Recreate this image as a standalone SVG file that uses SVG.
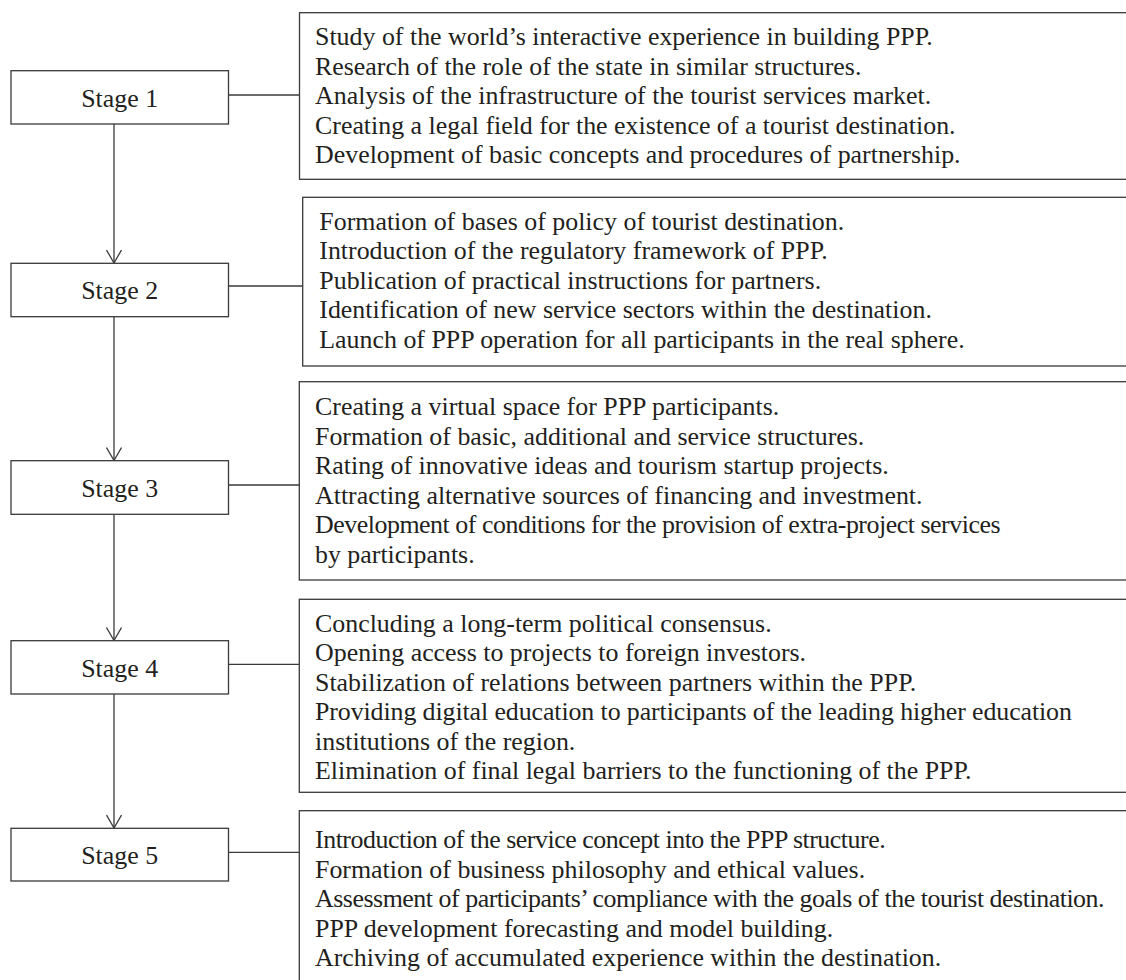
<svg xmlns="http://www.w3.org/2000/svg" width="1126" height="980" viewBox="0 0 1126 980">
<style>
.box{fill:#fff;stroke:#3a3a3a;stroke-width:1.3}
.t{font-family:"Liberation Serif","Times New Roman",serif;font-size:25.9px;fill:#231f20}
.c{text-anchor:middle}
.cd{letter-spacing:-0.47px}
.ln{stroke:#3a3a3a;stroke-width:1.3;fill:none}
</style>
<defs>
<marker id="ah" viewBox="0 0 16 16" refX="14" refY="8" markerWidth="16" markerHeight="16" markerUnits="userSpaceOnUse" orient="auto">
<path d="M1,0.5 L14,8 L1,15.5" fill="none" stroke="#3a3a3a" stroke-width="1.3"/>
</marker>
</defs>
<rect width="1126" height="980" fill="#fff"/>
<g id="connectors">
<line class="ln" x1="114" y1="124" x2="114" y2="263" marker-end="url(#ah)"/>
<line class="ln" x1="114" y1="317" x2="114" y2="460.5" marker-end="url(#ah)"/>
<line class="ln" x1="114" y1="514.5" x2="114" y2="640.5" marker-end="url(#ah)"/>
<line class="ln" x1="114" y1="694" x2="114" y2="828" marker-end="url(#ah)"/>
<line class="ln" x1="228.5" y1="95" x2="299.5" y2="95"/>
<line class="ln" x1="228.5" y1="286" x2="302.7" y2="286"/>
<line class="ln" x1="228.5" y1="485" x2="299.3" y2="485"/>
<line class="ln" x1="228.5" y1="664.3" x2="299.3" y2="664.3"/>
<line class="ln" x1="228.5" y1="852.3" x2="299.3" y2="852.3"/>
</g>
<g id="stage1"><rect class="box" x="11" y="70.7" width="217.5" height="53.3"/><text class="t c" x="119.7" y="106.5">Stage 1</text></g>
<g id="stage2"><rect class="box" x="11" y="263.3" width="217.5" height="53.4"/><text class="t c" x="119.7" y="299.2">Stage 2</text></g>
<g id="stage3"><rect class="box" x="11" y="460.7" width="217.5" height="53.6"/><text class="t c" x="119.7" y="496.7">Stage 3</text></g>
<g id="stage4"><rect class="box" x="11" y="640.7" width="217.5" height="53.3"/><text class="t c" x="119.7" y="676.5">Stage 4</text></g>
<g id="stage5"><rect class="box" x="11" y="828.3" width="217.5" height="52.7"/><text class="t c" x="119.7" y="863.8">Stage 5</text></g>
<g id="desc1"><rect class="box" x="299.5" y="12.7" width="840" height="166.6"/>
<text class="t"><tspan x="315" y="45">Study of the world’s interactive experience in building PPP.</tspan><tspan x="315" y="74.5">Research of the role of the state in similar structures.</tspan><tspan x="315" y="104">Analysis of the infrastructure of the tourist services market.</tspan><tspan x="315" y="133.5">Creating a legal field for the existence of a tourist destination.</tspan><tspan x="315" y="163">Development of basic concepts and procedures of partnership.</tspan></text></g>
<g id="desc2"><rect class="box" x="302.7" y="197.3" width="840" height="168.7"/>
<text class="t"><tspan x="319.3" y="229.6">Formation of bases of policy of tourist destination.</tspan><tspan x="319.3" y="259.1">Introduction of the regulatory framework of PPP.</tspan><tspan x="319.3" y="288.6">Publication of practical instructions for partners.</tspan><tspan x="319.3" y="318.1">Identification of new service sectors within the destination.</tspan><tspan x="319.3" y="347.6">Launch of PPP operation for all participants in the real sphere.</tspan></text></g>
<g id="desc3"><rect class="box" x="299.3" y="381.7" width="840" height="198.3"/>
<text class="t"><tspan x="315" y="415">Creating a virtual space for PPP participants.</tspan><tspan x="315" y="444.5">Formation of basic, additional and service structures.</tspan><tspan x="315" y="474">Rating of innovative ideas and tourism startup projects.</tspan><tspan x="315" y="503.5">Attracting alternative sources of financing and investment.</tspan></text>
<text class="t cd" x="315" y="533">Development of conditions for the provision of extra-project services</text>
<text class="t" x="315" y="562.5">by participants.</text></g>
<g id="desc4"><rect class="box" x="299.3" y="599.3" width="840" height="193"/>
<text class="t"><tspan x="315" y="631.6">Concluding a long-term political consensus.</tspan><tspan x="315" y="661.1">Opening access to projects to foreign investors.</tspan><tspan x="315" y="690.6">Stabilization of relations between partners within the PPP.</tspan></text>
<text class="t" x="315" y="720.1" style="letter-spacing:-0.1px">Providing digital education to participants of the leading higher education</text>
<text class="t"><tspan x="315" y="749.6">institutions of the region.</tspan><tspan x="315" y="779.1">Elimination of final legal barriers to the functioning of the PPP.</tspan></text></g>
<g id="desc5"><rect class="box" x="299.3" y="810.7" width="840" height="200"/>
<text class="t cd" x="315" y="848">Introduction of the service concept into the PPP structure.</text>
<text class="t" x="315" y="877.5">Formation of business philosophy and ethical values.</text>
<text class="t cd" x="315" y="907">Assessment of participants’ compliance with the goals of the tourist destination.</text>
<text class="t"><tspan x="315" y="936.5">PPP development forecasting and model building.</tspan><tspan x="315" y="966">Archiving of accumulated experience within the destination.</tspan></text></g>
</svg>
